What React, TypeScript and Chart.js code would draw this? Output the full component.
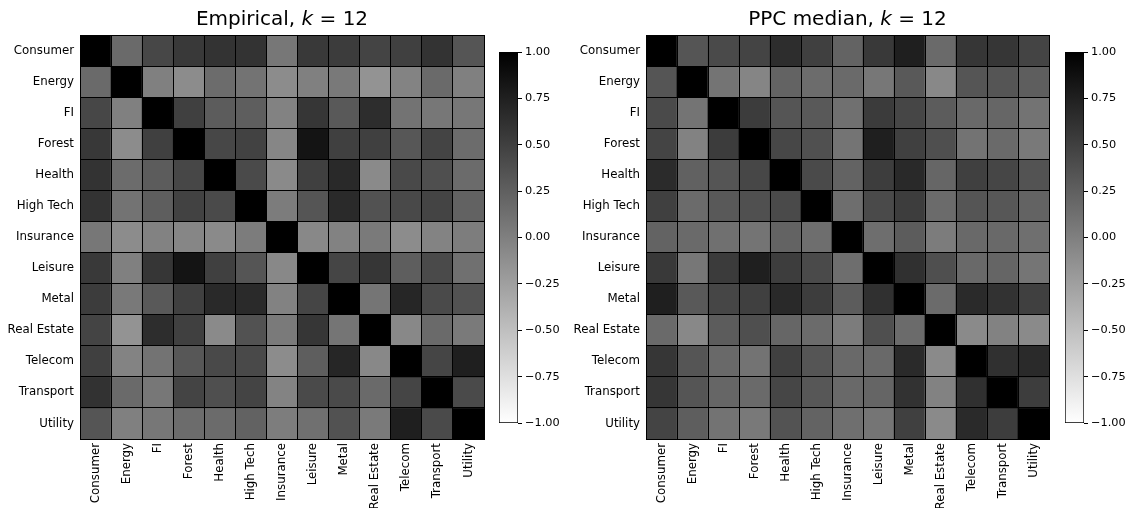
import React, { useEffect, useRef } from 'react';
import { Chart, registerables } from 'chart.js';

Chart.register(...registerables);

// ---------- data ----------
const CATEGORIES = ['Consumer', 'Energy', 'FI', 'Forest', 'Health', 'High Tech', 'Insurance', 'Leisure', 'Metal', 'Real Estate', 'Telecom', 'Transport', 'Utility'];

// Empirical correlation matrix rows (columns in CATEGORIES order)
const EMP_CONSUMER = [1.00, 0.17, 0.44, 0.55, 0.60, 0.60, 0.07, 0.55, 0.53, 0.47, 0.50, 0.60, 0.33];
const EMP_ENERGY = [0.17, 1.00, 0.00, -0.10, 0.15, 0.10, -0.10, 0.00, 0.05, -0.15, -0.03, 0.17, 0.00];
const EMP_FI = [0.44, 0.00, 1.00, 0.50, 0.28, 0.26, -0.02, 0.58, 0.30, 0.65, 0.10, 0.07, 0.07];
const EMP_FOREST = [0.56, -0.10, 0.50, 1.00, 0.44, 0.48, -0.05, 0.84, 0.50, 0.50, 0.32, 0.47, 0.15];
const EMP_HEALTH = [0.60, 0.15, 0.28, 0.44, 1.00, 0.42, -0.08, 0.50, 0.68, -0.08, 0.43, 0.38, 0.16];
const EMP_HIGHTECH = [0.60, 0.10, 0.26, 0.48, 0.42, 1.00, 0.03, 0.33, 0.67, 0.36, 0.43, 0.47, 0.23];
const EMP_INSURANCE = [0.07, -0.10, -0.02, -0.05, -0.08, 0.03, 1.00, -0.07, -0.02, 0.04, -0.10, -0.03, 0.02];
const EMP_LEISURE = [0.55, 0.00, 0.58, 0.84, 0.50, 0.33, -0.07, 1.00, 0.46, 0.58, 0.26, 0.42, 0.12];
const EMP_METAL = [0.53, 0.05, 0.30, 0.50, 0.68, 0.67, -0.02, 0.46, 1.00, 0.08, 0.70, 0.42, 0.36];
const EMP_REALESTATE = [0.47, -0.15, 0.65, 0.50, -0.08, 0.36, 0.04, 0.58, 0.08, 1.00, -0.07, 0.17, 0.04];
const EMP_TELECOM = [0.50, -0.03, 0.10, 0.32, 0.43, 0.43, -0.10, 0.26, 0.70, -0.07, 1.00, 0.46, 0.76];
const EMP_TRANSPORT = [0.61, 0.17, 0.07, 0.47, 0.38, 0.47, -0.03, 0.42, 0.42, 0.17, 0.46, 1.00, 0.42];
const EMP_UTILITY = [0.33, 0.00, 0.07, 0.15, 0.16, 0.23, 0.02, 0.12, 0.36, 0.04, 0.76, 0.42, 1.00];

// PPC median correlation matrix rows
const PPC_CONSUMER = [1.00, 0.33, 0.42, 0.47, 0.65, 0.50, 0.22, 0.55, 0.76, 0.17, 0.58, 0.58, 0.47];
const PPC_ENERGY = [0.33, 1.00, 0.09, -0.04, 0.22, 0.15, 0.17, 0.07, 0.30, -0.07, 0.33, 0.33, 0.26];
const PPC_FI = [0.42, 0.09, 1.00, 0.53, 0.33, 0.30, 0.12, 0.54, 0.45, 0.28, 0.18, 0.20, 0.10];
const PPC_FOREST = [0.47, -0.02, 0.53, 1.00, 0.44, 0.37, 0.09, 0.76, 0.50, 0.38, 0.10, 0.17, 0.05];
const PPC_HEALTH = [0.66, 0.24, 0.33, 0.44, 1.00, 0.42, 0.22, 0.52, 0.68, 0.20, 0.50, 0.45, 0.35];
const PPC_HIGHTECH = [0.50, 0.16, 0.30, 0.37, 0.42, 1.00, 0.14, 0.42, 0.52, 0.16, 0.33, 0.32, 0.22];
const PPC_INSURANCE = [0.22, 0.17, 0.12, 0.09, 0.22, 0.14, 1.00, 0.14, 0.28, 0.03, 0.18, 0.18, 0.13];
const PPC_LEISURE = [0.55, 0.07, 0.54, 0.76, 0.52, 0.42, 0.14, 1.00, 0.62, 0.38, 0.18, 0.21, 0.08];
const PPC_METAL = [0.76, 0.30, 0.45, 0.50, 0.68, 0.52, 0.28, 0.62, 1.00, 0.16, 0.67, 0.61, 0.50];
const PPC_REALESTATE = [0.17, -0.07, 0.28, 0.38, 0.20, 0.16, 0.03, 0.38, 0.16, 1.00, -0.08, -0.02, -0.08];
const PPC_TELECOM = [0.58, 0.33, 0.18, 0.10, 0.50, 0.33, 0.18, 0.18, 0.67, -0.08, 1.00, 0.62, 0.67];
const PPC_TRANSPORT = [0.58, 0.33, 0.20, 0.17, 0.45, 0.32, 0.18, 0.21, 0.61, -0.02, 0.62, 1.00, 0.52];
const PPC_UTILITY = [0.47, 0.26, 0.10, 0.05, 0.35, 0.22, 0.13, 0.08, 0.50, -0.08, 0.67, 0.52, 1.00];

const EMPIRICAL = [EMP_CONSUMER, EMP_ENERGY, EMP_FI, EMP_FOREST, EMP_HEALTH, EMP_HIGHTECH, EMP_INSURANCE, EMP_LEISURE, EMP_METAL, EMP_REALESTATE, EMP_TELECOM, EMP_TRANSPORT, EMP_UTILITY];
const PPC_MEDIAN = [PPC_CONSUMER, PPC_ENERGY, PPC_FI, PPC_FOREST, PPC_HEALTH, PPC_HIGHTECH, PPC_INSURANCE, PPC_LEISURE, PPC_METAL, PPC_REALESTATE, PPC_TELECOM, PPC_TRANSPORT, PPC_UTILITY];

const CB_TICKS = [-1, -0.75, -0.5, -0.25, 0, 0.25, 0.5, 0.75, 1];
const VMIN = -1;
const VMAX = 1;

const EMP_TITLE = [{ text: 'Empirical, ' }, { text: 'k', italic: true }, { text: ' = 12' }];
const PPC_TITLE = [{ text: 'PPC median, ' }, { text: 'k', italic: true }, { text: ' = 12' }];

// ---------- styling ----------
const FONT_FAMILY = "'DejaVu Sans', sans-serif";
const TICK_FONT = { family: FONT_FAMILY, size: 11.8 };
const PAGE_H = 508;
const PLOT_TOP = 35;
const PLOT_BOTTOM = 439;

Chart.defaults.color = '#000';
Chart.defaults.font.family = FONT_FAMILY;

function grayFor(v: number): string {
  const t = (v - VMIN) / (VMAX - VMIN);
  const g = Math.round(255 * (1 - t));
  return `rgb(${g},${g},${g})`;
}

const mathTitlePlugin = {
  id: 'mathTitle',
  afterDraw(chart: any, _args: any, opts: any) {
    const segs = opts && opts.segments;
    if (!segs) return;
    const { ctx, chartArea } = chart;
    const size = opts.size || 20;
    const fontFor = (s: any) => `${s.italic ? 'italic ' : ''}${size}px ${FONT_FAMILY}`;
    ctx.save();
    let total = 0;
    const widths = segs.map((s: any) => {
      ctx.font = fontFor(s);
      const w = ctx.measureText(s.text).width;
      total += w;
      return w;
    });
    let x = (chartArea.left + chartArea.right) / 2 - total / 2;
    ctx.fillStyle = '#000';
    ctx.textBaseline = 'alphabetic';
    ctx.textAlign = 'left';
    segs.forEach((s: any, i: number) => {
      ctx.font = fontFor(s);
      ctx.fillText(s.text, x, opts.y);
      x += widths[i];
    });
    ctx.restore();
  },
};

function Heatmap(props: { matrix: number[][]; title: any[]; left: number; width: number; labelWidth: number }) {
  const ref = useRef<HTMLCanvasElement | null>(null);
  const { matrix, title, left, width, labelWidth } = props;
  useEffect(() => {
    if (!ref.current) return;
    const datasets = matrix.map((row, i) => ({
      label: CATEGORIES[i],
      data: row.map(() => 1),
      backgroundColor: row.map(grayFor),
      borderWidth: 0,
      barPercentage: 1,
      categoryPercentage: 1,
    }));
    const rowEdges = [0, ...CATEGORIES.map((_, i) => i + 1)];
    const chart = new Chart(ref.current, {
      type: 'bar',
      data: { labels: CATEGORIES, datasets },
      plugins: [mathTitlePlugin],
      options: {
        animation: false,
        responsive: false,
        events: [],
        layout: { padding: { top: PLOT_TOP, right: 6, left: 0, bottom: 0 } },
        plugins: {
          legend: { display: false },
          tooltip: { enabled: false },
          title: { display: false },
          mathTitle: { segments: title, size: 20, y: 25 },
        } as any,
        scales: {
          x: {
            type: 'category',
            stacked: true,
            position: 'bottom',
            grid: { offset: true, color: '#000', lineWidth: 1, drawTicks: false, z: 1 },
            border: { display: true, color: '#000', width: 1, z: 2 },
            ticks: { autoSkip: false, maxRotation: 90, minRotation: 90, padding: 4, color: '#000', font: TICK_FONT },
            afterFit: (s: any) => { s.height = PAGE_H - PLOT_BOTTOM; },
          },
          y: {
            type: 'linear',
            stacked: true,
            reverse: true,
            min: 0,
            max: CATEGORIES.length,
            position: 'left',
            weight: 0,
            grid: { color: '#000', lineWidth: 1, drawTicks: false, z: 1 },
            border: { display: true, color: '#000', width: 1, z: 2 },
            ticks: { display: false },
            afterBuildTicks: (s: any) => { s.ticks = rowEdges.map((v) => ({ value: v })); },
            afterFit: (s: any) => { s.width = 0; },
          },
          yl: {
            type: 'category',
            labels: CATEGORIES,
            offset: true,
            position: 'left',
            weight: 1,
            grid: { display: false, drawTicks: false },
            border: { display: false },
            ticks: { padding: 6, color: '#000', font: TICK_FONT, autoSkip: false },
            afterFit: (s: any) => { s.width = labelWidth; },
          },
        } as any,
      },
    });
    return () => chart.destroy();
  }, []);
  return (
    <canvas
      ref={ref}
      width={width}
      height={PAGE_H}
      style={{ position: 'absolute', left, top: 0, width, height: PAGE_H, display: 'block' }}
    />
  );
}

function Colorbar(props: { left: number; width: number }) {
  const ref = useRef<HTMLCanvasElement | null>(null);
  const { left, width } = props;
  useEffect(() => {
    if (!ref.current) return;
    const barW = 19;
    const chart = new Chart(ref.current, {
      type: 'bar',
      data: {
        labels: [''],
        datasets: [
          {
            data: [[VMIN, VMAX]] as any,
            backgroundColor: (c: any) => {
              const ch = c.chart;
              const area = ch.chartArea;
              if (!area) return '#808080';
              const ys = ch.scales.y;
              const g = ch.ctx.createLinearGradient(0, ys.getPixelForValue(VMIN), 0, ys.getPixelForValue(VMAX));
              g.addColorStop(0, grayFor(VMIN));
              g.addColorStop(1, grayFor(VMAX));
              return g;
            },
            borderColor: '#000',
            borderWidth: 1,
            borderSkipped: false,
            barPercentage: 1,
            categoryPercentage: 1,
          } as any,
        ],
      },
      options: {
        animation: false,
        responsive: false,
        events: [],
        layout: { padding: { top: 52, bottom: PAGE_H - 423, left: 4, right: 0 } },
        plugins: { legend: { display: false }, tooltip: { enabled: false } },
        scales: {
          x: { display: false },
          y: {
            type: 'linear',
            position: 'right',
            min: VMIN,
            max: VMAX,
            afterBuildTicks: (s: any) => { s.ticks = CB_TICKS.map((v) => ({ value: v })); },
            grid: { drawOnChartArea: false, drawTicks: true, tickLength: 4, color: '#000', lineWidth: 1 },
            border: { display: false },
            ticks: {
              padding: 3,
              color: '#000',
              font: { family: FONT_FAMILY, size: 11.3 },
              callback: (v: any) => Number(v).toFixed(2).replace('-', '\u2212'),
            },
            afterFit: (s: any) => { s.width = width - 4 - barW; },
          },
        } as any,
      },
    });
    return () => chart.destroy();
  }, []);
  return (
    <canvas
      ref={ref}
      width={width}
      height={PAGE_H}
      style={{ position: 'absolute', left, top: 0, width, height: PAGE_H, display: 'block' }}
    />
  );
}

export default function App() {
  return (
    <div style={{ position: 'fixed', left: 0, top: 0, width: 1133, height: PAGE_H, background: '#fff', overflow: 'hidden' }}>
      <Heatmap matrix={EMPIRICAL} title={EMP_TITLE} left={0} width={490} labelWidth={80} />
      <Colorbar left={495} width={80} />
      <Heatmap matrix={PPC_MEDIAN} title={PPC_TITLE} left={560} width={495} labelWidth={86} />
      <Colorbar left={1061} width={72} />
    </div>
  );
}
